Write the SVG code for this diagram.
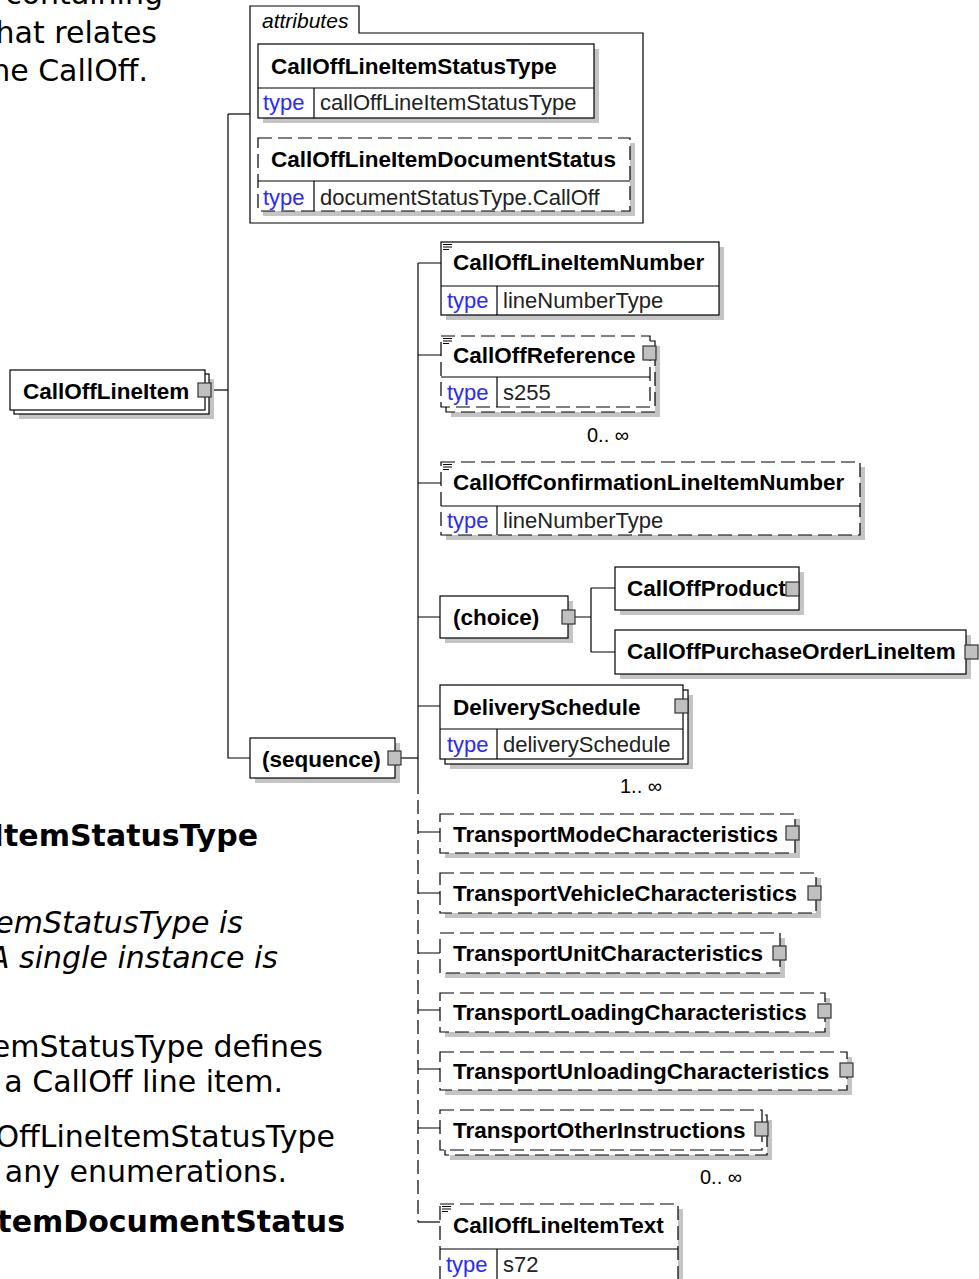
<svg xmlns="http://www.w3.org/2000/svg" width="979" height="1279" viewBox="0 0 979 1279">
<style>
.box{fill:#fff;stroke:#000;stroke-width:1.2}
.d{stroke-dasharray:14 6}
.sh{fill:#c4c4c4}
.ln{fill:none;stroke:#000;stroke-width:1.2}
.n{font-family:"Liberation Sans",Arial,sans-serif;font-weight:bold;font-size:22.5px;fill:#000}
.tk{font-family:"Liberation Sans",Arial,sans-serif;font-size:22px;fill:#2a2aff}
.tv{font-family:"Liberation Sans",Arial,sans-serif;font-size:22px;fill:#222}
.it{font-family:"Liberation Sans",Arial,sans-serif;font-style:italic;font-size:21px;fill:#000}
.c{fill:none;stroke:#000;stroke-width:1.2}
.cd{fill:none;stroke:#000;stroke-width:1.2;stroke-dasharray:14 6}
.btn{fill:#c0c0c0;stroke:#333;stroke-width:1.2}
.card{font-family:"Liberation Sans",Arial,sans-serif;font-size:20px;fill:#000}
.doc{font-family:"DejaVu Sans",Verdana,sans-serif;font-size:30px;fill:#000}
.ic{stroke:#000;stroke-width:1;fill:none}
</style>
<rect width="979" height="1279" fill="#fff"/>

<g id="doctext" class="doc">
<text x="163" y="4" text-anchor="end">containing</text>
<text x="157" y="43" text-anchor="end">that relates</text>
<text x="148" y="81" text-anchor="end">the CallOff.</text>
<text x="258" y="846" text-anchor="end" font-weight="bold">CallOffLineItemStatusType</text>
<text x="243" y="933" text-anchor="end" font-style="italic">CallOffLineItemStatusType is</text>
<text x="278" y="968" text-anchor="end" font-style="italic">A single instance is</text>
<text x="323" y="1057" text-anchor="end">CallOffLineItemStatusType defines</text>
<text x="283" y="1092" text-anchor="end">of a CallOff line item.</text>
<text x="335" y="1147" text-anchor="end">CallOffLineItemStatusType</text>
<text x="287" y="1182" text-anchor="end">for any enumerations.</text>
<text x="345" y="1232" text-anchor="end" font-weight="bold">CallOffLineItemDocumentStatus</text>
</g>

<g id="connectors">
<path class="c" d="M228,114 H250"/>
<path class="c" d="M211,390 H228"/>
<path class="c" d="M228,114 V758 H250"/>
<path class="c" d="M401,758 H418"/>
<path class="c" d="M418,263 V780"/>
<path class="cd" d="M418,780 V1222"/>
<path class="c" d="M418,1222 H440"/>
<path class="c" d="M418,263 H441 M418,355 H441 M418,483 H441 M418,617 H440 M418,706 H440 M418,832 H440 M418,893 H440 M418,953 H440 M418,1010 H440 M418,1069 H440 M418,1128 H440"/>
<path class="c" d="M575,617 H591 M591,588 V652 M591,588 H615 M591,652 H615"/>
</g>

<g id="attributes">
<path class="box" d="M250,223 V6 H359 V33 H643 V223 Z"/>
<text class="it" x="262" y="28">attributes</text>
</g>

<g id="attr-CallOffLineItemStatusType">
<rect class="sh" x="263" y="49" width="336" height="74"/>
<rect class="box" x="258" y="44" width="336" height="74"/>
<path class="ln" d="M258,88 H594 M314,88 V118"/>
<text class="n" x="271" y="74">CallOffLineItemStatusType</text>
<text class="tk" x="263" y="110">type</text>
<text class="tv" x="320" y="110">callOffLineItemStatusType</text>
</g>

<g id="attr-CallOffLineItemDocumentStatus">
<rect class="sh" x="263" y="143" width="372" height="73"/>
<rect class="box d" x="258" y="138" width="372" height="73"/>
<path class="ln" d="M258,181 H630 M314,181 V211"/>
<text class="n" x="271" y="167">CallOffLineItemDocumentStatus</text>
<text class="tk" x="263" y="205">type</text>
<text class="tv" x="320" y="205">documentStatusType.CallOff</text>
</g>

<g id="CallOffLineItem">
<rect class="sh" x="19" y="379" width="195" height="40"/>
<rect class="box" x="14" y="374" width="195" height="40"/>
<rect class="box" x="10" y="370" width="195" height="40"/>
<text class="n" x="23" y="399">CallOffLineItem</text>
<rect class="btn" x="198" y="383" width="13" height="14"/>
</g>

<g id="sequence">
<rect class="sh" x="255" y="743" width="145" height="40"/>
<rect class="box" x="250" y="738" width="145" height="40"/>
<text class="n" x="262" y="767">(sequence)</text>
<rect class="btn" x="388" y="751" width="13" height="14"/>
</g>

<g id="CallOffLineItemNumber">
<rect class="sh" x="446" y="247" width="278" height="73"/>
<rect class="box" x="441" y="242" width="278" height="73"/>
<path class="ln" d="M441,286 H719 M497,286 V315"/>
<path class="ic" d="M443,244.5 H452 M443,247 H452 M443,249.5 H449"/>
<text class="n" x="453" y="270">CallOffLineItemNumber</text>
<text class="tk" x="447" y="308">type</text>
<text class="tv" x="503" y="308">lineNumberType</text>
</g>

<g id="CallOffReference">
<rect class="sh" x="451" y="346" width="209" height="71"/>
<rect class="box d" x="446" y="341" width="209" height="71"/>
<rect class="box d" x="441" y="336" width="209" height="71"/>
<path class="ln" d="M441,377 H650 M497,377 V407"/>
<path class="ic" d="M443,338.5 H452 M443,341 H452 M443,343.5 H449"/>
<text class="n" x="453" y="363">CallOffReference</text>
<text class="tk" x="447" y="400">type</text>
<text class="tv" x="503" y="400">s255</text>
<rect class="btn" x="643" y="346" width="13" height="14"/>
<text class="card" x="587" y="442">0.. ∞</text>
</g>

<g id="CallOffConfirmationLineItemNumber">
<rect class="sh" x="446" y="467" width="419" height="73"/>
<rect class="box d" x="441" y="462" width="419" height="73"/>
<path class="ln" d="M441,506 H860 M497,506 V535"/>
<path class="ic" d="M443,464.5 H452 M443,467 H452 M443,469.5 H449"/>
<text class="n" x="453" y="490">CallOffConfirmationLineItemNumber</text>
<text class="tk" x="447" y="528">type</text>
<text class="tv" x="503" y="528">lineNumberType</text>
</g>

<g id="choice">
<rect class="sh" x="445" y="601" width="128" height="42"/>
<rect class="box" x="440" y="596" width="128" height="42"/>
<text class="n" x="453" y="625">(choice)</text>
<rect class="btn" x="562" y="610" width="13" height="14"/>
</g>

<g id="CallOffProduct">
<rect class="sh" x="620" y="572" width="184" height="43"/>
<rect class="box" x="615" y="567" width="184" height="43"/>
<text class="n" x="627" y="596">CallOffProduct</text>
<rect class="btn" x="786" y="582" width="13" height="14"/>
</g>

<g id="CallOffPurchaseOrderLineItem">
<rect class="sh" x="620" y="635" width="351" height="44"/>
<rect class="box" x="615" y="630" width="351" height="44"/>
<text class="n" x="627" y="659">CallOffPurchaseOrderLineItem</text>
<rect class="btn" x="965" y="645" width="13" height="14"/>
</g>

<g id="DeliverySchedule">
<rect class="sh" x="450" y="695" width="243" height="74"/>
<rect class="box" x="445" y="690" width="243" height="74"/>
<rect class="box" x="440" y="685" width="243" height="74"/>
<path class="ln" d="M440,729 H683 M497,729 V759"/>
<text class="n" x="453" y="715">DeliverySchedule</text>
<text class="tk" x="447" y="752">type</text>
<text class="tv" x="503" y="752">deliverySchedule</text>
<rect class="btn" x="675" y="699" width="13" height="14"/>
<text class="card" x="620" y="793">1.. ∞</text>
</g>

<g id="TransportModeCharacteristics">
<rect class="sh" x="445" y="819" width="355" height="39"/>
<rect class="box d" x="440" y="814" width="355" height="39"/>
<text class="n" x="453" y="842">TransportModeCharacteristics</text>
<rect class="btn" x="786" y="826" width="13" height="14"/>
</g>

<g id="TransportVehicleCharacteristics">
<rect class="sh" x="445" y="878" width="376" height="40"/>
<rect class="box d" x="440" y="873" width="376" height="40"/>
<text class="n" x="453" y="901">TransportVehicleCharacteristics</text>
<rect class="btn" x="808" y="886" width="13" height="14"/>
</g>

<g id="TransportUnitCharacteristics">
<rect class="sh" x="445" y="938" width="340" height="40"/>
<rect class="box d" x="440" y="933" width="340" height="40"/>
<text class="n" x="453" y="961">TransportUnitCharacteristics</text>
<rect class="btn" x="773" y="946" width="13" height="14"/>
</g>

<g id="TransportLoadingCharacteristics">
<rect class="sh" x="445" y="998" width="385" height="39"/>
<rect class="box d" x="440" y="993" width="385" height="39"/>
<text class="n" x="453" y="1020">TransportLoadingCharacteristics</text>
<rect class="btn" x="818" y="1004" width="13" height="14"/>
</g>

<g id="TransportUnloadingCharacteristics">
<rect class="sh" x="445" y="1057" width="407" height="38"/>
<rect class="box d" x="440" y="1052" width="407" height="38"/>
<text class="n" x="453" y="1079">TransportUnloadingCharacteristics</text>
<rect class="btn" x="840" y="1063" width="13" height="14"/>
</g>

<g id="TransportOtherInstructions">
<rect class="sh" x="450" y="1120" width="322" height="40"/>
<rect class="box d" x="445" y="1115" width="322" height="40"/>
<rect class="box d" x="440" y="1110" width="322" height="40"/>
<text class="n" x="453" y="1138">TransportOtherInstructions</text>
<rect class="btn" x="755" y="1122" width="13" height="14"/>
<text class="card" x="700" y="1184">0.. ∞</text>
</g>

<g id="CallOffLineItemText">
<rect class="sh" x="445" y="1209" width="238" height="90"/>
<rect class="box d" x="440" y="1204" width="238" height="90"/>
<path class="ln" d="M440,1249 H678 M497,1249 V1294"/>
<path class="ic" d="M442,1206.5 H451 M442,1209 H451 M442,1211.5 H448"/>
<text class="n" x="453" y="1233">CallOffLineItemText</text>
<text class="tk" x="446" y="1272">type</text>
<text class="tv" x="503" y="1272">s72</text>
</g>
</svg>
